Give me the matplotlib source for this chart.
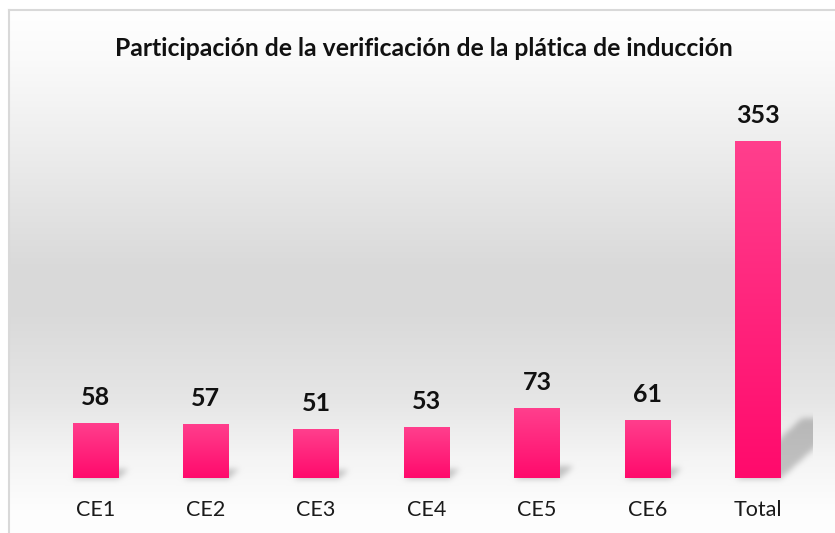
import numpy as np
import matplotlib.pyplot as plt
from matplotlib.colors import LinearSegmentedColormap

plt.rcParams['font.family'] = ['Lato', 'DejaVu Sans']

categorias = ['CE1', 'CE2', 'CE3', 'CE4', 'CE5', 'CE6', 'Total']
participantes = [58, 57, 51, 53, 73, 61, 353]
titulo = 'Participación de la verificación de la plática de inducción'

W, H = 835, 533
fig = plt.figure(figsize=(W / 100, H / 100), dpi=100)

# eje principal (barras)
ax = fig.add_axes([40 / W, 55 / H, 773 / W, 382 / H])
ax.patch.set_alpha(0)
for s in ax.spines.values():
    s.set_visible(False)
ax.set_yticks([])
x = np.arange(len(categorias))
ax.set_xticks(x, categorias)
ax.tick_params(axis='x', length=0, pad=16, labelsize=15.5, labelcolor='#1a1a1a')

bars = ax.bar(x, participantes, width=0.41, color='#ff2a80', zorder=2)

# degradado rosa dentro de cada barra
rosa = LinearSegmentedColormap.from_list('rosa', ['#ff0a6c', '#ff3f8d'])
grad = np.linspace(0, 1, 256).reshape(-1, 1)
for b in bars:
    x0, w, h = b.get_x(), b.get_width(), b.get_height()
    im = ax.imshow(grad, extent=(x0, x0 + w, 0, h), origin='lower', aspect='auto',
                   cmap=rosa, zorder=3, interpolation='bilinear')
    im.set_clip_path(b)
ax.set_xlim(-0.5, len(categorias) - 0.5)
ax.set_ylim(0, 400)

for xi, v in zip(x, participantes):
    ax.annotate(str(v), (xi, v), xytext=(0, 14), textcoords='offset pixels',
                ha='center', va='bottom', fontsize=18, fontweight='bold', color='#111111')

# fondo con degradado gris + sombras en perspectiva
bg = fig.add_axes([0, 0, 1, 1], zorder=-1)
bg.axis('off')

filas = np.arange(H)
gris = np.interp(filas, [10, 60, 160, 270, 310, 400, 460, 510, 533],
                 [255, 250, 235, 217, 217, 230, 245, 253, 254]) / 255
img = np.repeat(gris[:, None], W, axis=1)
img[:10, :] = 1
img[:, :9] = 1

yy, xx = np.mgrid[0:H, 0:W].astype(float)
sombra = np.zeros((H, W))
for b in bars:
    (px0, pbase), (px1, ptop) = ax.transData.transform(
        [(b.get_x(), 0), (b.get_x() + b.get_width(), b.get_height())])
    hs = 0.18 * (ptop - pbase)
    dx = 1.1 * hs
    t = ((H - pbase) - yy) / hs
    dentro = (t >= 0) & (t <= 1) & (xx >= px0 + t * dx) & (xx <= px1 + t * dx)
    sombra[dentro] = 1

# desenfoque gaussiano separable (relleno de ceros)
r = 8
k = np.arange(-r, r + 1)
ker = np.exp(-k ** 2 / (2 * 3.0 ** 2))
ker /= ker.sum()
p = np.pad(sombra, ((0, 0), (r, r)))
sombra = sum(kv * p[:, r + i:r + i + W] for i, kv in zip(k, ker))
p = np.pad(sombra, ((r, r), (0, 0)))
sombra = sum(kv * p[r + i:r + i + H, :] for i, kv in zip(k, ker))

borde_der = ax.transAxes.transform((1, 0))[0]
sombra[:, int(borde_der):] = 0
img = img * (1 - 0.22 * sombra)

bg.imshow(np.dstack([img] * 3), extent=(0, W, H, 0), aspect='auto', interpolation='bilinear')
bg.plot([9, 9], [10, H], color='#d9d9d9', lw=1.5)
bg.plot([9, W], [10, 10], color='#d9d9d9', lw=1.5)
bg.set_xlim(0, W)
bg.set_ylim(H, 0)

fig.text(424 / W, (H - 48) / H, titulo, ha='center', va='center',
         fontsize=17.8, fontweight='bold', color='#111111')

fig.savefig('out.png', dpi=100)
